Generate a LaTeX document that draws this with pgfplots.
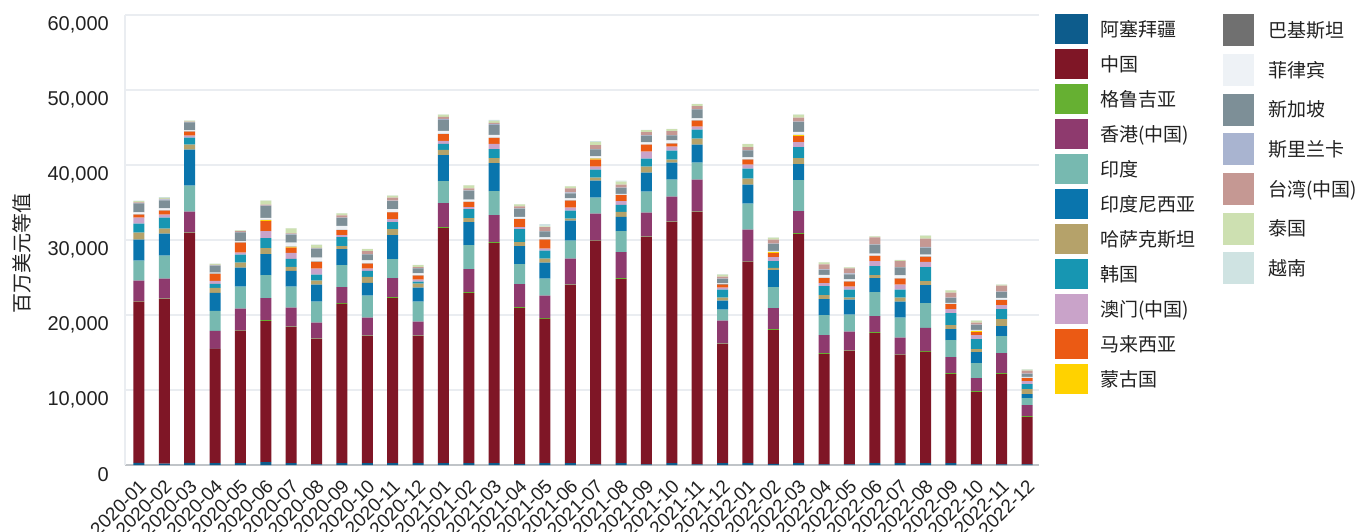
\documentclass[border=0pt]{standalone}
\usepackage{pgfplots}
\usepackage{pgfplotstable}
\pgfplotsset{compat=1.18}
\usepackage{fontspec}
\setmainfont{Liberation Sans}
\newfontfamily\cjk{Noto Sans CJK SC}

\definecolor{cAZ}{RGB}{13,92,140}
\definecolor{cCN}{RGB}{127,22,38}
\definecolor{cGE}{RGB}{102,176,50}
\definecolor{cHK}{RGB}{142,58,110}
\definecolor{cIN}{RGB}{119,185,176}
\definecolor{cID}{RGB}{10,117,173}
\definecolor{cKZ}{RGB}{181,162,106}
\definecolor{cKR}{RGB}{23,150,178}
\definecolor{cMO}{RGB}{201,163,201}
\definecolor{cMY}{RGB}{235,90,20}
\definecolor{cMN}{RGB}{255,210,0}
\definecolor{cPK}{RGB}{112,112,112}
\definecolor{cPH}{RGB}{238,242,246}
\definecolor{cSG}{RGB}{125,143,151}
\definecolor{cLK}{RGB}{169,180,208}
\definecolor{cTW}{RGB}{197,152,147}
\definecolor{cTH}{RGB}{205,224,177}
\definecolor{cVN}{RGB}{207,227,226}
\definecolor{gridc}{RGB}{234,237,241}
\definecolor{basec}{RGB}{192,196,200}
\definecolor{txt}{RGB}{34,34,34}

\pgfplotstableread{
x  AZ  CN    GE  HK   IN   ID   KZ  KR   MO  MY   MN  PK PH  SG   LK  TW   TH  VN
0  300 21480 40  2760 2670 2800 930 1200 800 400  0   30 270 1200 40  100  180 40
1  200 21930 40  2670 3070 2930 670 1470 400 530  0   30 270 1070 130 80   130 100
2  300 30630 60  2800 3470 4800 670 930  270 530  0   30 130 1070 40  60   130 40
3  250 15200 40  2400 2670 2400 670 530  400 930  0   30 130 930  40  60   130 40
4  250 17620 60  2930 2930 2530 670 1070 270 1330 0   30 130 1200 40  130  100 40
5  400 18800 130 2930 3070 2800 800 1330 930 1330 130 30 270 1600 40  130  530 40
6  250 18150 40  2530 2800 2130 530 1070 800 670  130 30 530 1070 100 60   670 40
7  100 16700 40  2130 2800 2270 530 800  800 930  0   30 530 1200 40  60   400 40
8  250 21220 130 2130 2930 2130 400 1200 270 670  0   30 530 1070 40  270  270 40
9  250 16950 40  2400 2930 1730 800 800  270 670  0   30 400 800  40  400  270 40
10 250 22000 130 2530 2530 3200 800 930  400 930  0   30 400 1070 40  400  270 40
11 250 16950 40  1870 2670 1870 530 270  270 530  0   30 270 670  40  130  270 40
12 250 31350 130 3200 2930 3470 670 800  400 930  0   30 400 1470 130 270  270 40
13 250 22680 130 3070 3200 3070 530 1200 270 670  0   30 270 1200 40  270  400 40
14 250 29350 130 3600 3200 3730 670 1200 670 800  0   30 400 1330 130 130  270 130
15 150 20780 130 3070 2670 2400 530 1730 270 1070 0   30 270 1070 40  270  270 40
16 250 19220 130 2980 2270 2130 530 1070 270 1200 0   30 270 800  40  530  100 300
17 250 23750 40  3470 2400 2670 270 1070 400 930  0   30 270 670  130 530  270 40
18 100 29770 40  3600 2130 2270 400 1070 400 930  130 30 270 930  40  530  400 130
19 250 24550 130 3470 2800 1870 670 930  530 800  0   30 130 800  40  400  400 130
20 100 30300 40  3200 2800 2530 800 1070 930 930  0   30 270 930  40  400  270 40
21 250 32150 40  3330 2270 2270 400 1200 530 400  0   30 400 670  40  530  270 40
22 100 33630 40  4270 2270 2400 800 1200 400 800  0   30 270 1200 40  400  270 40
23 250 15880 40  3070 1470 1200 400 1070 270 400  0   100 100 570 40  270  270 40
24 250 26820 40  4270 3470 2530 800 1330 530 670  0   30 270 930  40  400  400 40
25 150 17850 130 2800 2800 2270 270 930  530 530  130 30 130 930  40  530  270 40
26 250 30550 130 2930 4130 2130 800 1470 670 800  130 30 400 1330 40  530  400 40
27 100 14700 130 2400 2670 2130 530 1200 400 670  0   30 400 670  40  670  270 40
28 100 15100 40  2530 2270 2000 270 1070 400 670  0   30 270 670  130 670  130 40
29 250 17350 130 2130 3200 1870 400 1200 670 670  0   30 270 1200 40  930  130 40
30 250 14420 40  2270 2670 2130 530 1070 670 800  0   30 400 1070 40  800  130 40
31 250 14820 130 3070 3330 2400 530 1870 670 670  0   30 270 930  130 1070 400 40
32 250 11880 130 2130 2270 1470 530 1600 530 670  0   30 130 670  40  670  270 40
33 100 9630  130 1730 2000 1470 400 1330 530 400  130 30 130 670  40  270  270 40
34 100 12030 130 2670 2270 1330 930 1330 530 670  0   30 270 800  40  800  130 40
35 100 6300  130 1470 930  530  670 670  400 400  0   30 130 400  40  400  130 40
}\data

\begin{document}
\begin{tikzpicture}
\path[use as bounding box] (-125pt,-66pt) rectangle (1241pt,465pt);
\begin{axis}[
  at={(0pt,0pt)}, anchor=south west,
  width=914pt, height=450pt, scale only axis,
  ybar stacked, bar width=11pt,
  xmin=-0.55, xmax=35.47, ymin=0, ymax=60000,
  ytick={0,10000,20000,30000,40000,50000,60000},
  scaled y ticks=false,
  /pgf/number format/assume math mode=true,
  yticklabel style={/pgf/number format/1000 sep={,}, font=\fontsize{20}{20}\selectfont, text=txt, anchor=east, inner sep=0pt, xshift=-16pt, yshift=-10pt},
  xtick=data,
  xticklabels={2020-01,2020-02,2020-03,2020-04,2020-05,2020-06,2020-07,2020-08,2020-09,2020-10,2020-11,2020-12,2021-01,2021-02,2021-03,2021-04,2021-05,2021-06,2021-07,2021-08,2021-09,2021-10,2021-11,2021-12,2022-01,2022-02,2022-03,2022-04,2022-05,2022-06,2022-07,2022-08,2022-09,2022-10,2022-11,2022-12},
  xticklabel style={font=\fontsize{19}{19}\selectfont, text=txt, xshift=4pt, yshift=-18pt, rotate=45, anchor=east, inner sep=0pt},
  major tick length=0pt,
  ymajorgrids, grid style={draw=gridc, line width=1.3pt},
  axis lines=left,
  axis line style={-},
  x axis line style={draw=basec, line width=1.6pt},
  y axis line style={draw=gridc, line width=1.3pt},
  ylabel={\cjk 百万美元等值},
  ylabel style={font=\fontsize{20}{20}\selectfont, text=txt, at={(axis description cs:-0.1127,0.471)}, anchor=center},
  legend image code/.code={\fill[#1] (0pt,-15pt) rectangle (33pt,15pt);},
  legend cell align=left,
  legend style={at={(1,1)}, anchor=north west, xshift=16pt, yshift=1pt, draw=none, fill=none, inner sep=0pt,
    font=\cjk\fontsize{19}{19}\selectfont, text=txt, row sep=5pt,
    /tikz/every odd column/.style={column sep=10pt}},
]
\addplot[fill=cAZ, draw=none] table[x=x, y=AZ] {\data}; \addlegendentry{阿塞拜疆}
\addplot[fill=cCN, draw=none] table[x=x, y=CN] {\data}; \addlegendentry{中国}
\addplot[fill=cGE, draw=none] table[x=x, y=GE] {\data}; \addlegendentry{格鲁吉亚}
\addplot[fill=cHK, draw=none] table[x=x, y=HK] {\data}; \addlegendentry{香港(中国)}
\addplot[fill=cIN, draw=none] table[x=x, y=IN] {\data}; \addlegendentry{印度}
\addplot[fill=cID, draw=none] table[x=x, y=ID] {\data}; \addlegendentry{印度尼西亚}
\addplot[fill=cKZ, draw=none] table[x=x, y=KZ] {\data}; \addlegendentry{哈萨克斯坦}
\addplot[fill=cKR, draw=none] table[x=x, y=KR] {\data}; \addlegendentry{韩国}
\addplot[fill=cMO, draw=none] table[x=x, y=MO] {\data}; \addlegendentry{澳门(中国)}
\addplot[fill=cMY, draw=none] table[x=x, y=MY] {\data}; \addlegendentry{马来西亚}
\addplot[fill=cMN, draw=none] table[x=x, y=MN] {\data}; \addlegendentry{蒙古国}
\addplot[fill=cPK, draw=none] table[x=x, y=PK] {\data};
\addplot[fill=cPH, draw=none] table[x=x, y=PH] {\data};
\addplot[fill=cSG, draw=none] table[x=x, y=SG] {\data};
\addplot[fill=cLK, draw=none] table[x=x, y=LK] {\data};
\addplot[fill=cTW, draw=none] table[x=x, y=TW] {\data};
\addplot[fill=cTH, draw=none] table[x=x, y=TH] {\data};
\addplot[fill=cVN, draw=none] table[x=x, y=VN] {\data};
\end{axis}
\begin{axis}[
  at={(0pt,0pt)}, anchor=south west,
  width=914pt, height=450pt, scale only axis,
  hide axis, xmin=0, xmax=1, ymin=0, ymax=1,
  legend image code/.code={\fill[#1] (0pt,-16pt) rectangle (31pt,16pt);},
  legend cell align=left,
  legend style={at={(1,1)}, anchor=north west, xshift=184pt, yshift=1pt, draw=none, fill=none, inner sep=0pt,
    font=\cjk\fontsize{19}{19}\selectfont, text=txt, row sep=7.7pt,
    /tikz/every odd column/.style={column sep=12pt}},
]
\addlegendimage{fill=cPK, draw=none}\addlegendentry{巴基斯坦}
\addlegendimage{fill=cPH, draw=none}\addlegendentry{菲律宾}
\addlegendimage{fill=cSG, draw=none}\addlegendentry{新加坡}
\addlegendimage{fill=cLK, draw=none}\addlegendentry{斯里兰卡}
\addlegendimage{fill=cTW, draw=none}\addlegendentry{台湾(中国)}
\addlegendimage{fill=cTH, draw=none}\addlegendentry{泰国}
\addlegendimage{fill=cVN, draw=none}\addlegendentry{越南}
\end{axis}
\end{tikzpicture}
\end{document}
